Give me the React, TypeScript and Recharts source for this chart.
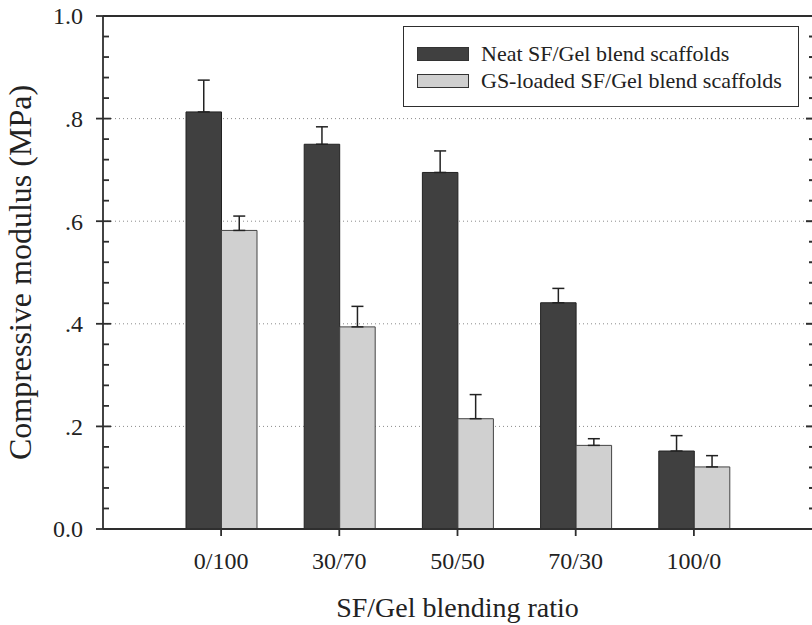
import React from 'react';
import { BarChart, Bar, XAxis, YAxis, CartesianGrid, ErrorBar, Legend, Label, ReferenceLine } from 'recharts';

const ratios = ['0/100', '30/70', '50/50', '70/30', '100/0'];
const seriesNames = ['Neat SF/Gel blend scaffolds', 'GS-loaded SF/Gel blend scaffolds'];
const neatModulus = [0.813, 0.75, 0.695, 0.441, 0.152];
const neatSd = [0.062, 0.034, 0.042, 0.028, 0.03];
const loadedModulus = [0.582, 0.394, 0.215, 0.163, 0.121];
const loadedSd = [0.028, 0.04, 0.047, 0.013, 0.022];

// every 0.04 for the small ticks, labels only on the 0.2 steps
const yTicks = [0, 0.04, 0.08, 0.12, 0.16, 0.2, 0.24, 0.28, 0.32, 0.36, 0.4, 0.44, 0.48, 0.52, 0.56, 0.6, 0.64, 0.68, 0.72, 0.76, 0.8, 0.84, 0.88, 0.92, 0.96, 1.0];
const gridValues = [0.2, 0.4, 0.6, 0.8];

const data = ratios.map((ratio, i) => ({
  ratio,
  neat: neatModulus[i],
  neatErr: [0, neatSd[i]],
  loaded: loadedModulus[i],
  loadedErr: [0, loadedSd[i]],
}));

const CHART_W = 812;
const CHART_H = 625;
const Y_AXIS_W = 103;
const PLOT_W = CHART_W - Y_AXIS_W;
const LEFT_MARGIN = 20;

const serif = '"Liberation Serif", "Times New Roman", serif';
const ink = '#222';
const axisColor = '#2e2e2e';

const isMajor = (v: number) => Math.abs(v * 5 - Math.round(v * 5)) < 1e-6;
const fmtY = (v: number) => (v === 0 ? '0.0' : v === 1 ? '1.0' : v.toFixed(1).replace(/^0/, ''));

// left axis: labels + ticks crossing the axis; the frame's right edge gets short inward ticks
const FrameTick = (props: any) => {
  const { x, y, payload } = props;
  const axisX = x + LEFT_MARGIN;
  const rightX = axisX + PLOT_W;
  const v = payload.value;
  if (!isMajor(v)) {
    return (
      <g>
        <line x1={axisX} x2={axisX + 6} y1={y} y2={y} stroke={axisColor} strokeWidth={1.8} />
        <line x1={rightX - 3} x2={rightX} y1={y} y2={y} stroke={axisColor} strokeWidth={2} />
      </g>
    );
  }
  return (
    <g>
      <line x1={axisX - 7} x2={axisX + 8} y1={y} y2={y} stroke={axisColor} strokeWidth={1.8} />
      <line x1={rightX - 6} x2={rightX} y1={y} y2={y} stroke={axisColor} strokeWidth={2} />
      <text x={x} y={y} dy="0.35em" textAnchor="end" fontFamily={serif} fontSize={24} fill={ink}>
        {fmtY(v)}
      </text>
    </g>
  );
};

const YTitle = (props: any) => {
  const { viewBox } = props;
  const cy = viewBox.y + viewBox.height / 2;
  return (
    <text x={31} y={cy} transform={`rotate(-90, 31, ${cy})`} textAnchor="middle" fontFamily={serif} fontSize={32} fill={ink}>
      Compressive modulus (MPa)
    </text>
  );
};

const renderLegend = (props: any) => {
  const items = [...(props.payload || [])].sort(
    (a: any, b: any) => seriesNames.indexOf(a.value) - seriesNames.indexOf(b.value)
  );
  return (
    <div
      style={{
        boxSizing: 'border-box',
        width: 396,
        height: 81,
        border: `1.5px solid ${axisColor}`,
        background: '#fff',
        paddingTop: 13,
        paddingLeft: 13,
        fontFamily: serif,
        fontSize: 22,
        color: ink,
      }}
    >
      {items.map((entry: any) => (
        <div key={entry.value} style={{ display: 'flex', alignItems: 'center', height: 27 }}>
          <span
            style={{
              display: 'inline-block',
              boxSizing: 'border-box',
              width: 52,
              height: 14,
              background: entry.color,
              border: '1px solid #333',
              marginRight: 12,
            }}
          />
          <span style={{ whiteSpace: 'nowrap' }}>{entry.value}</span>
        </div>
      ))}
    </div>
  );
};

const App = () => {
  return (
    <div style={{ position: 'absolute', left: 0, top: 0, width: CHART_W, height: CHART_H, background: '#fff', overflow: 'hidden' }}>
      <BarChart
        width={CHART_W}
        height={CHART_H}
        data={data}
        margin={{ top: 16, right: 0, bottom: 0, left: 0 }}
        barGap={0}
        barSize={35.5}
      >
        <CartesianGrid
          vertical={false}
          horizontalValues={gridValues}
          stroke="#8a8a8a"
          strokeDasharray="1 3"
        />
        <XAxis
          dataKey="ratio"
          height={96}
          padding={{ left: 59, right: 59 }}
          tickSize={7}
          tickMargin={16}
          tick={{ fontSize: 24, fill: ink, fontFamily: serif }}
          tickLine={{ stroke: axisColor, strokeWidth: 1.8 }}
          axisLine={{ stroke: axisColor, strokeWidth: 1.8 }}
        >
          <Label value="SF/Gel blending ratio" position="insideBottom" offset={8} fontSize={28} fontFamily={serif} fill={ink} />
        </XAxis>
        <YAxis
          width={Y_AXIS_W}
          domain={[0, 1]}
          ticks={yTicks}
          interval={0}
          tickSize={0}
          tickMargin={LEFT_MARGIN}
          tickLine={false}
          tick={<FrameTick />}
          axisLine={{ stroke: axisColor, strokeWidth: 1.8 }}
        >
          <Label content={<YTitle />} />
        </YAxis>
        <ReferenceLine y={1} stroke={axisColor} strokeWidth={1.8} />
        <Legend
          layout="vertical"
          align="center"
          verticalAlign="middle"
          content={renderLegend}
          wrapperStyle={{ left: 403, top: 26, width: 396, height: 81 }}
        />
        <Bar dataKey="neat" name={seriesNames[0]} fill="#404040" stroke="#222" strokeWidth={1} isAnimationActive={false}>
          <ErrorBar dataKey="neatErr" direction="y" width={6} stroke="#222" strokeWidth={1.5} />
        </Bar>
        <Bar dataKey="loaded" name={seriesNames[1]} fill="#d0d0d0" stroke="#444" strokeWidth={1} isAnimationActive={false}>
          <ErrorBar dataKey="loadedErr" direction="y" width={6} stroke="#222" strokeWidth={1.5} />
        </Bar>
      </BarChart>
    </div>
  );
};

export default App;
